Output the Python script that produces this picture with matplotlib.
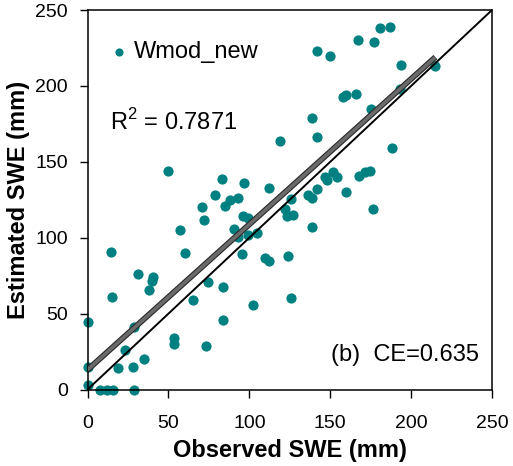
import matplotlib
matplotlib.use("Agg")
import matplotlib.pyplot as plt
import matplotlib.patheffects as pe
import numpy as np

plt.rcParams['font.family'] = ['Liberation Sans', 'DejaVu Sans']
plt.rcParams['mathtext.fontset'] = 'custom'
plt.rcParams['mathtext.rm'] = 'Liberation Sans'

observed = [0, 8, 12, 16, 29, 0, 0, 19, 28, 23, 35, 29, 15, 38, 31, 40.5, 40, 14.5, 60, 57,
            53.5, 53.5, 73, 84, 65, 74.5, 84, 102, 126, 124, 95.5, 110, 112, 90.5, 93, 99,
            105, 71, 72, 79, 88, 93, 85, 96, 99, 112, 83, 97, 50, 119, 139, 142, 142, 150,
            167, 177, 181, 187, 194, 215, 158, 160, 166, 193, 175, 188, 147, 148, 152, 154,
            142, 160, 168, 171.5, 174.5, 176.5, 122, 123, 127, 139, 136, 139, 126]
estimated = [3, 0, 0, 0, 0, 15, 44.5, 14, 15, 26, 20, 41, 61, 65.5, 76, 74, 71.5, 90.5, 90, 105,
             34, 30, 29, 46, 59, 71, 67.5, 56, 60, 88, 89, 86.5, 84.5, 106, 100.5, 102,
             103, 120, 112, 128, 125, 126, 121, 114, 113, 133, 139, 136, 144, 164, 179, 166.5, 223, 220,
             230, 229, 238, 238.5, 213.5, 213, 193, 194, 195, 198, 185, 159, 140, 138, 143, 140,
             132, 130, 141, 143, 144, 119, 119, 114, 115, 107, 128, 126, 125.5]

trend_intercept = 13.0
trend_slope = 0.958
r2_text = r'R$^{\mathrm{2}}$ = 0.7871'
ce_text = '(b)  CE=0.635'
ticks = [0, 50, 100, 150, 200, 250]

fig = plt.figure(figsize=(5.13, 4.66), dpi=100)
ax = fig.add_axes([0.1706, 0.164, 0.7885, 0.8145])

ax.scatter(observed, estimated, s=54, color='#008080', linewidths=0, zorder=2,
           clip_on=False, label='Wmod_new')

xs = np.array([0, max(observed)])
ax.plot(xs, trend_intercept + trend_slope * xs, color='#6a6a6a', lw=2.6, zorder=3,
        solid_capstyle='butt',
        path_effects=[pe.Stroke(linewidth=4.2, foreground='#2a2a2a'), pe.Normal()])
ax.plot([0, 250], [0, 250], color='black', lw=1.4, zorder=4)

ax.set_xlim(0, 250)
ax.set_ylim(0, 250)
ax.set_xticks(ticks)
ax.set_yticks(ticks)
ax.tick_params(axis='both', direction='out', length=6, width=1, labelsize=14, colors='black')
ax.tick_params(axis='x', pad=12)
ax.tick_params(axis='y', pad=8)
for s in ax.spines.values():
    s.set_linewidth(1.1)
    s.set_color('black')

ax.set_xlabel('Observed SWE (mm)', fontsize=17, fontweight='bold', labelpad=5)
ax.set_ylabel('Estimated SWE (mm)', fontsize=17, fontweight='bold', labelpad=4)

ax.legend(loc='upper left', bbox_to_anchor=(-0.005, 0.975), frameon=False, fontsize=17,
          handletextpad=0.15, handlelength=1.0, markerscale=0.8)
ax.text(14, 176, r2_text, fontsize=17, va='center', ha='left')
ax.text(242, 23, ce_text, fontsize=17, va='center', ha='right')

fig.savefig('out.png', dpi=100)
